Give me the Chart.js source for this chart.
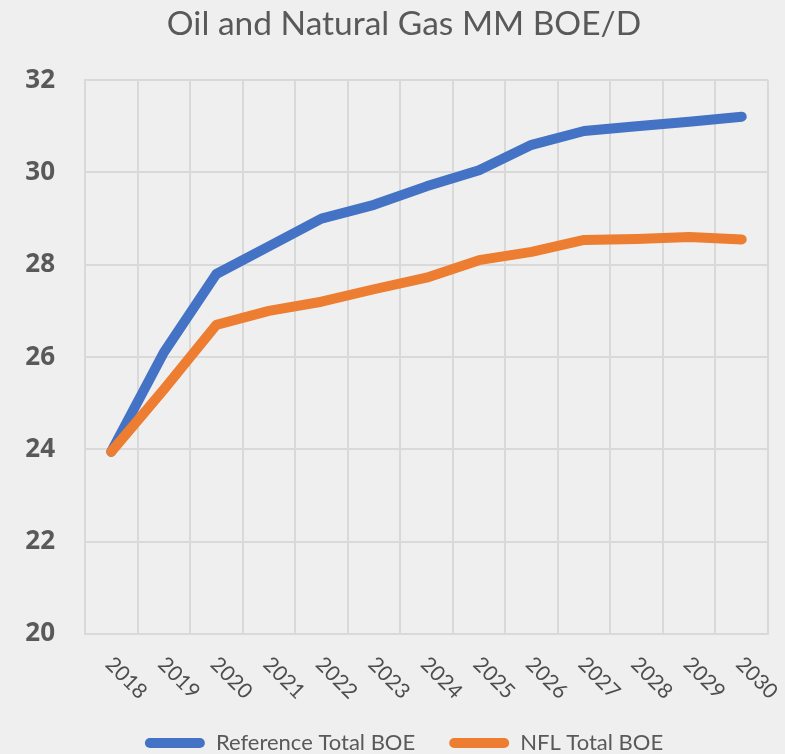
<!DOCTYPE html>
<html>
<head>
<meta charset="utf-8">
<script src="https://cdn.jsdelivr.net/npm/chart.js@4/dist/chart.umd.min.js"></script>
<style>
  html, body { margin: 0; padding: 0; background: #efefef; }
  #wrap { width: 785px; height: 754px; position: relative; }
</style>
</head>
<body>
<div id="wrap"><canvas id="c" width="785" height="754"></canvas></div>
<script>
const categories = ['2018','2019','2020','2021','2022','2023','2024','2025','2026','2027','2028','2029','2030'];
const referenceTotal = [23.95, 26.1, 27.8, 28.4, 29.0, 29.3, 29.7, 30.05, 30.6, 30.9, 31.0, 31.1, 31.21];
const nflTotal = [23.95, 25.3, 26.7, 27.0, 27.2, 27.47, 27.72, 28.1, 28.28, 28.54, 28.56, 28.6, 28.55];
const yTicks = [20, 22, 24, 26, 28, 30, 32];

const TEXT = '#595959';
const GRID = '#d9d9d9';

const xLabelPlugin = {
  id: 'xLabels',
  afterDraw(chart) {
    const scale = chart.scales.x;
    const ctx = chart.ctx;
    ctx.save();
    ctx.font = '21px Lato';
    ctx.fillStyle = '#4d4d4d';
    ctx.textAlign = 'center';
    ctx.textBaseline = 'middle';
    chart.data.labels.forEach((lab, i) => {
      const x = scale.getPixelForTick(i);
      ctx.save();
      ctx.translate(x + 15, scale.top + 44);
      ctx.rotate(Math.PI / 4);
      ctx.fillText(lab, 0, 0);
      ctx.restore();
    });
    ctx.restore();
  }
};

function build() {
  new Chart(document.getElementById('c'), {
    type: 'line',
    data: {
      labels: categories,
      datasets: [
        { label: 'Reference Total BOE', data: referenceTotal, borderColor: '#4472C4', backgroundColor: '#4472C4',
          borderWidth: 10, pointRadius: 0, tension: 0, borderCapStyle: 'round', borderJoinStyle: 'round', order: 1 },
        { label: 'NFL Total BOE', data: nflTotal, borderColor: '#ED7D31', backgroundColor: '#ED7D31',
          borderWidth: 10, pointRadius: 0, tension: 0, borderCapStyle: 'round', borderJoinStyle: 'round', order: 0 }
      ]
    },
    options: {
      responsive: false,
      animation: false,
      layout: { padding: { left: 23, right: 0, top: 0, bottom: -10 } },
      plugins: {
        title: {
          display: true,
          text: 'Oil and Natural Gas MM BOE/D',
          color: TEXT,
          font: { family: 'Lato', size: 33.5, weight: 'normal', lineHeight: 1.2 },
          padding: { top: 4, bottom: 36 }
        },
        legend: {
          position: 'bottom',
          labels: {
            color: TEXT,
            font: { family: 'Lato', size: 22 },
            boxWidth: 60,
            boxHeight: 10,
            padding: 34,
            useBorderRadius: true,
            borderRadius: 5,
            generateLabels(chart) {
              const items = Chart.defaults.plugins.legend.labels.generateLabels(chart);
              items.forEach(it => { it.lineWidth = 0; it.fillStyle = it.strokeStyle; });
              items.sort((a, b) => a.datasetIndex - b.datasetIndex);
              return items;
            }
          }
        },
        tooltip: { enabled: false }
      },
      scales: {
        x: {
          offset: true,
          grid: { display: true, offset: true, color: GRID, lineWidth: 2, drawTicks: false },
          border: { display: true, color: GRID, width: 2 },
          ticks: { display: false },
          afterFit(scale) { scale.height = 64; }
        },
        y: {
          min: 20,
          max: 32,
          afterBuildTicks(scale) { scale.ticks = yTicks.map(v => ({ value: v })); },
          grid: { color: GRID, lineWidth: 2, drawTicks: false },
          border: { display: true, color: GRID, width: 2 },
          ticks: { color: TEXT, font: { family: 'Open Sans', size: 26, weight: 'bold' }, padding: 30 },
          afterFit(scale) { scale.width = 62; }
        },
        yRight: {
          position: 'right',
          display: true,
          min: 20,
          max: 32,
          grid: { display: false, drawTicks: false },
          border: { display: false },
          ticks: { display: false },
          afterFit(scale) { scale.width = 17; }
        }
      }
    },
    plugins: [xLabelPlugin]
  });
}

Promise.all([
  document.fonts.load('bold 26px "Open Sans"'),
  document.fonts.load('21px Lato'),
  document.fonts.load('22px Lato'),
  document.fonts.load('33px Lato')
]).then(build, build);
</script>
</body>
</html>
